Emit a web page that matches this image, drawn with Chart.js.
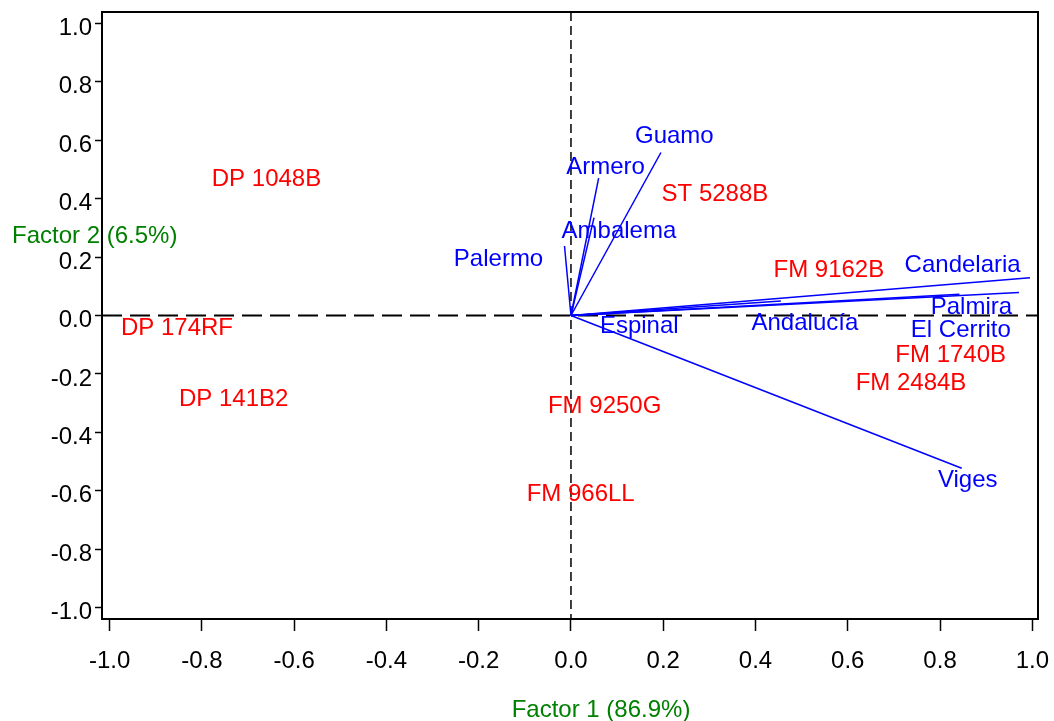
<!DOCTYPE html>
<html>
<head>
<meta charset="utf-8">
<script src="https://cdn.jsdelivr.net/npm/chart.js@4"></script>
<style>
  html, body { margin: 0; padding: 0; background: #fff; }
  canvas { display: block; }
</style>
</head>
<body>
<canvas id="biplot" width="1054" height="721"></canvas>
<script>
// genotypes (red), scores on factor 1 / factor 2
const genotypes = ["DP 1048B", "ST 5288B", "FM 9162B", "DP 174RF", "DP 141B2", "FM 9250G", "FM 966LL", "FM 1740B", "FM 2484B"];
const genoX = [-0.660, 0.312, 0.559, -0.854, -0.731, 0.073, 0.021, 0.823, 0.737];
const genoY = [0.473, 0.423, 0.162, -0.038, -0.279, -0.305, -0.607, -0.129, -0.224];

// environments (blue vectors from the origin)
const envs = ["Guamo", "Armero", "Ambalema", "Palermo", "Espinal", "Andalucía", "Candelaria", "Palmira", "El Cerrito", "Viges"];
const envX = [0.195, 0.060, 0.050, -0.014, 0.100, 0.455, 0.995, 0.971, 0.842, 0.847];
const envY = [0.558, 0.470, 0.335, 0.238, 0.008, 0.050, 0.129, 0.079, 0.073, -0.523];
// where each environment name sits
const envLabelX = [0.224, 0.075, 0.104, -0.157, 0.148, 0.507, 0.849, 0.868, 0.845, 0.860];
const envLabelY = [0.619, 0.513, 0.295, 0.200, -0.029, -0.019, 0.179, 0.034, -0.044, -0.558];

const xTicks = [-1.0, -0.8, -0.6, -0.4, -0.2, 0.0, 0.2, 0.4, 0.6, 0.8, 1.0];
const yTicks = [-1.0, -0.8, -0.6, -0.4, -0.2, 0.0, 0.2, 0.4, 0.6, 0.8, 1.0];
const xTitle = "Factor 1 (86.9%)";
const yTitle = "Factor 2 (6.5%)";

const FONT = "'Liberation Sans', Arial, Helvetica, sans-serif";
const SIZE = 24;
const RED = "#ff0000";
const BLUE = "#0000ff";
const GREEN = "#008000";

const datasets = [
  {
    label: "genotypes",
    data: genotypes.map((g, i) => ({ x: genoX[i], y: genoY[i] })),
    pointRadius: 0
  },
  {
    label: "envLabels",
    data: envs.map((e, i) => ({ x: envLabelX[i], y: envLabelY[i] })),
    pointRadius: 0
  }
];
envs.forEach((name, i) => {
  datasets.push({
    label: name,
    data: [{ x: 0, y: 0 }, { x: envX[i], y: envY[i] }],
    showLine: true,
    borderColor: BLUE,
    borderWidth: 1.5,
    pointRadius: 0
  });
});

// text is placed so the middle of the capitals sits on the point
const capMid = 0.358 * SIZE;

const biplotDecor = {
  id: "biplotDecor",
  beforeDatasetsDraw(chart) {
    const { ctx, chartArea: a, scales: { x, y } } = chart;
    const x0 = x.getPixelForValue(0);
    const y0 = y.getPixelForValue(0);
    ctx.save();
    ctx.strokeStyle = "#000";
    ctx.lineWidth = 2;
    ctx.setLineDash([20, 8]);
    ctx.beginPath();
    ctx.moveTo(a.left, y0);
    ctx.lineTo(a.right, y0);
    ctx.stroke();
    ctx.lineWidth = 1.5;
    ctx.setLineDash([9, 5]);
    ctx.beginPath();
    ctx.moveTo(x0, a.top);
    ctx.lineTo(x0, a.bottom);
    ctx.stroke();
    ctx.restore();
  },
  afterDatasetsDraw(chart) {
    const { ctx, chartArea: a } = chart;
    ctx.save();
    ctx.font = SIZE + "px " + FONT;
    ctx.textAlign = "center";
    ctx.textBaseline = "alphabetic";

    ctx.fillStyle = RED;
    chart.getDatasetMeta(0).data.forEach((pt, i) => {
      ctx.fillText(genotypes[i], pt.x, pt.y + capMid);
    });
    ctx.fillStyle = BLUE;
    chart.getDatasetMeta(1).data.forEach((pt, i) => {
      ctx.fillText(envs[i], pt.x, pt.y + capMid);
    });

    // frame
    ctx.strokeStyle = "#000";
    ctx.lineWidth = 2;
    ctx.strokeRect(a.left, a.top, a.right - a.left, a.bottom - a.top);

    // axis titles
    ctx.fillStyle = GREEN;
    ctx.fillText(xTitle, 601, 708 + capMid);
    ctx.textAlign = "left";
    ctx.fillText(yTitle, 12, 234 + capMid);
    ctx.restore();
  }
};

new Chart(document.getElementById("biplot"), {
  type: "scatter",
  data: { datasets },
  options: {
    responsive: false,
    animation: false,
    devicePixelRatio: 1,
    layout: { padding: { top: 12, right: 16, bottom: 0, left: 0 } },
    plugins: { legend: { display: false }, tooltip: { enabled: false } },
    scales: {
      x: {
        type: "linear",
        min: -1.0165,
        max: 1.0123,
        afterBuildTicks: s => { s.ticks = xTicks.map(v => ({ value: v })); },
        afterFit: s => { s.height = 102; s.paddingLeft = 0; s.paddingRight = 0; },
        border: { display: false },
        grid: { drawOnChartArea: false, drawTicks: true, tickLength: 12, tickColor: "#000", tickWidth: 1.5 },
        ticks: {
          color: "#000",
          font: { family: FONT, size: SIZE },
          padding: 16,
          maxRotation: 0,
          autoSkip: false,
          callback: v => v.toFixed(1)
        }
      },
      y: {
        type: "linear",
        min: -1.039,
        max: 1.039,
        afterBuildTicks: s => { s.ticks = yTicks.map(v => ({ value: v })); },
        afterFit: s => { s.width = 102; s.paddingTop = 0; s.paddingBottom = 0; },
        border: { display: false },
        grid: { drawOnChartArea: false, drawTicks: true, tickLength: 7, tickColor: "#000", tickWidth: 1.5 },
        ticks: {
          color: "#000",
          font: { family: FONT, size: SIZE },
          padding: 3,
          labelOffset: 5,
          autoSkip: false,
          callback: v => v.toFixed(1)
        }
      }
    }
  },
  plugins: [biplotDecor]
});
</script>
</body>
</html>
